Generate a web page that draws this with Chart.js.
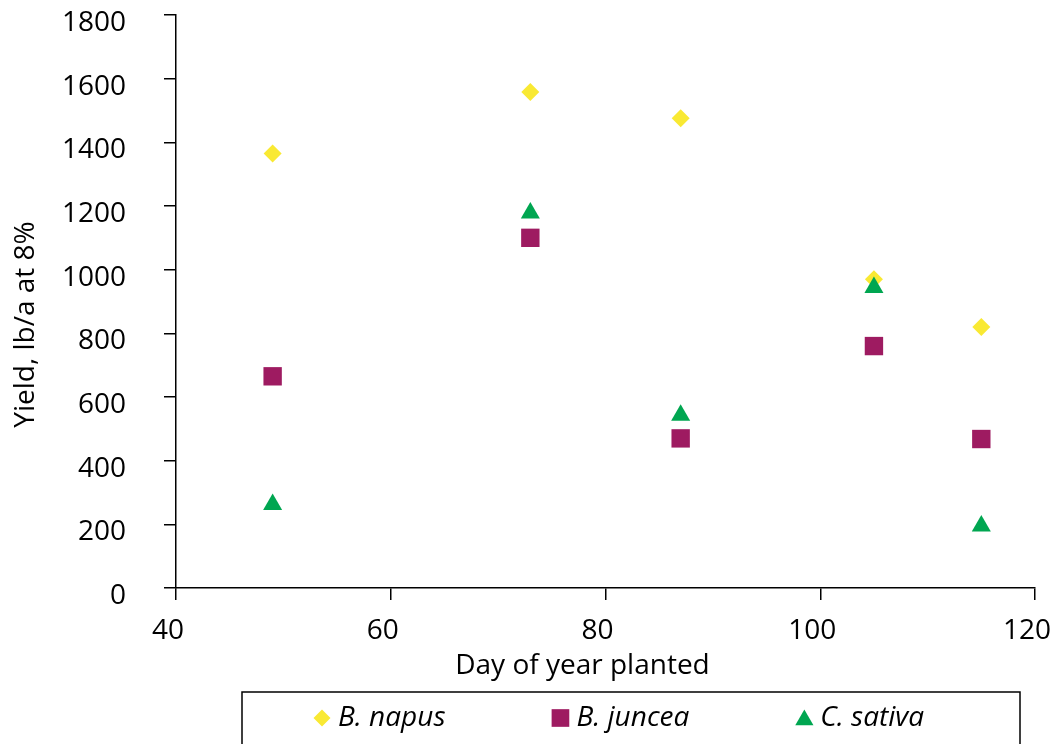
<!DOCTYPE html>
<html>
<head>
<meta charset="utf-8">
<script src="https://cdn.jsdelivr.net/npm/chart.js@4/dist/chart.umd.min.js"></script>
<style>
  html, body { margin: 0; padding: 0; background: #fff; }
  #wrap { width: 1053px; height: 744px; }
</style>
</head>
<body>
<div id="wrap"><canvas id="chart"></canvas></div>
<script>
// values
const days = [49, 73, 87, 105, 115];
const napus = [1365, 1558, 1476, 970, 820];
const juncea = [665, 1100, 470, 760, 468];
const sativa = [262, 1178, 543, 944, 195];

const seriesNames = ['B. napus', 'B. juncea', 'C. sativa'];
const xTitle = 'Day of year planted';
const yTitle = 'Yield, lb/a at 8%';

const FONT = '"Open Sans", "Noto Sans", sans-serif';

function toPoints(ys) {
  return days.map((d, i) => ({ x: d, y: ys[i] }));
}

// axis titles sit a little off-centre in the original, so they are drawn here
const axisTitles = {
  id: 'axisTitles',
  afterDraw(chart) {
    const ctx = chart.ctx;
    const area = chart.chartArea;
    ctx.save();
    ctx.fillStyle = '#000';
    ctx.font = '28px ' + FONT;
    ctx.textAlign = 'center';
    ctx.textBaseline = 'middle';
    ctx.fillText(xTitle, (area.left + area.right) / 2 - 23, 666);
    ctx.translate(26, (area.top + area.bottom) / 2 + 23);
    ctx.rotate(-Math.PI / 2);
    ctx.fillText(yTitle, 0, 0);
    ctx.restore();
  }
};

// legend drawn by hand: boxed row under the axis title, bottom edge runs off the page
const boxLegend = {
  id: 'boxLegend',
  afterDraw(chart) {
    const ctx = chart.ctx;
    const top = 692, left = 242, right = 1020;
    const midY = top + 26;
    ctx.save();
    ctx.strokeStyle = '#000';
    ctx.lineWidth = 1.5;
    ctx.strokeRect(left, top, right - left, 100);
    ctx.font = 'italic 28px ' + FONT;
    ctx.textBaseline = 'middle';
    const legendRadius = { rectRot: 8.5, rect: 12.5, triangle: 10.5 };
    let x = left + 80;
    chart.data.datasets.forEach(ds => {
      ctx.fillStyle = ds.backgroundColor;
      ctx.strokeStyle = ds.borderColor;
      Chart.helpers.drawPoint(ctx, {
        pointStyle: ds.pointStyle,
        radius: legendRadius[ds.pointStyle],
        rotation: 0,
        borderWidth: 0
      }, x, ds.pointStyle === 'triangle' ? midY + 2 : midY);
      ctx.fillStyle = '#000';
      const tx = x + 16;
      ctx.fillText(ds.label, tx, midY);
      x = tx + ctx.measureText(ds.label).width + 115;
    });
    ctx.restore();
  }
};

const axisGrid = {
  display: true,
  drawOnChartArea: false,
  drawTicks: true,
  tickLength: 12,
  color: '#000',
  lineWidth: 1.5
};

const plainNumber = v => String(v);

const ctx = document.getElementById('chart').getContext('2d');
const chart = new Chart(ctx, {
  type: 'scatter',
  data: {
    datasets: [
      {
        label: seriesNames[0],
        data: toPoints(napus),
        order: 3,
        pointStyle: 'rectRot',
        pointRadius: 9,
        backgroundColor: '#F9E933',
        borderColor: '#F9E933',
        borderWidth: 0
      },
      {
        label: seriesNames[1],
        data: toPoints(juncea),
        order: 2,
        pointStyle: 'rect',
        pointRadius: 13,
        backgroundColor: '#9E1B61',
        borderColor: '#9E1B61',
        borderWidth: 0
      },
      {
        label: seriesNames[2],
        data: toPoints(sativa),
        order: 1,
        pointStyle: 'triangle',
        pointRadius: 11,
        backgroundColor: '#00A651',
        borderColor: '#00A651',
        borderWidth: 0
      }
    ]
  },
  options: {
    responsive: true,
    maintainAspectRatio: false,
    animation: false,
    layout: { padding: { top: 0, right: 0, left: 12, bottom: 60 } },
    plugins: {
      tooltip: { enabled: false },
      legend: { display: false }
    },
    scales: {
      x: {
        type: 'linear',
        min: 40,
        max: 120,
        ticks: { stepSize: 20, color: '#000', font: { family: FONT, size: 28 }, padding: 14, labelOffset: -8, callback: plainNumber },
        grid: axisGrid,
        border: { display: true, color: '#000', width: 1.5 },
        title: { display: false },
        afterFit(scale) {
          scale.height = 96;
          scale.paddingLeft = 0;
          scale.paddingRight = 18;
        }
      },
      y: {
        min: 0,
        max: 1800,
        ticks: { stepSize: 200, autoSkip: false, color: '#000', font: { family: FONT, size: 28 }, padding: 38, labelOffset: 8, callback: plainNumber },
        grid: axisGrid,
        border: { display: true, color: '#000', width: 1.5 },
        title: { display: false },
        afterFit(scale) {
          scale.width = 164;
          scale.paddingTop = 15;
          scale.paddingBottom = 0;
        }
      }
    }
  },
  plugins: [axisTitles, boxLegend]
});
</script>
</body>
</html>
